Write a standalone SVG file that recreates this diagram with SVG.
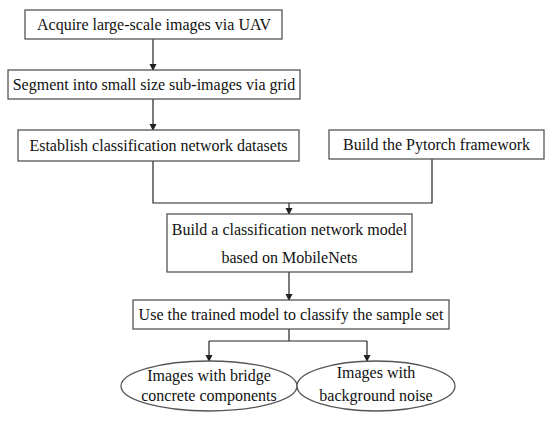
<svg xmlns="http://www.w3.org/2000/svg" width="550" height="429" viewBox="0 0 550 429">
<style>
.box{fill:#fff;stroke:#555;stroke-width:1.3}
.t{font-family:"Liberation Serif","Times New Roman",serif;font-size:16px;fill:#111;text-anchor:middle}
.c{fill:none;stroke:#222;stroke-width:1.2}
</style>
<defs>
<marker id="ah" markerWidth="8" markerHeight="8" refX="6" refY="3.5" orient="auto" markerUnits="userSpaceOnUse">
<path d="M0,0 L7,3.5 L0,7 Z" fill="#222"/>
</marker>
</defs>
<rect width="550" height="429" fill="#fff"/>
<g id="connectors">
<line class="c" x1="153" y1="39" x2="153" y2="70" marker-end="url(#ah)"/>
<line class="c" x1="153" y1="99" x2="153" y2="130" marker-end="url(#ah)"/>
<polyline class="c" points="153,161 153,203 432,203 432,159"/>
<line class="c" x1="289" y1="203" x2="289" y2="214" marker-end="url(#ah)"/>
<line class="c" x1="289" y1="272" x2="289" y2="300" marker-end="url(#ah)"/>
<line class="c" x1="289" y1="329" x2="289" y2="341"/>
<line class="c" x1="209" y1="341" x2="367" y2="341"/>
<line class="c" x1="209" y1="341" x2="209" y2="361" marker-end="url(#ah)"/>
<line class="c" x1="367" y1="341" x2="367" y2="361" marker-end="url(#ah)"/>
</g>
<g id="n1"><rect class="box" x="25" y="10" width="257" height="29"/><text class="t" x="154" y="30">Acquire large-scale images via UAV</text></g>
<g id="n2"><rect class="box" x="8" y="70" width="292" height="29"/><text class="t" x="154" y="90">Segment into small size sub-images via grid</text></g>
<g id="n3"><rect class="box" x="18" y="130" width="281" height="31"/><text class="t" x="158.5" y="151">Establish classification network datasets</text></g>
<g id="n4"><rect class="box" x="329" y="130" width="215" height="29"/><text class="t" x="436.5" y="150">Build the Pytorch framework</text></g>
<g id="n5"><rect class="box" x="167" y="214" width="245" height="58"/><text class="t" x="289.5" y="235">Build a classification network model</text><text class="t" x="289.5" y="263">based on MobileNets</text></g>
<g id="n6"><rect class="box" x="133" y="300" width="316" height="29"/><text class="t" x="291" y="320">Use the trained model to classify the sample set</text></g>
<g id="n7"><ellipse class="box" cx="209" cy="386" rx="88" ry="25"/><text class="t" x="209" y="381">Images with bridge</text><text class="t" x="209" y="401">concrete components</text></g>
<g id="n8"><ellipse class="box" cx="376" cy="386" rx="79" ry="25"/><text class="t" x="376" y="378">Images with</text><text class="t" x="376" y="401">background noise</text></g>
</svg>
